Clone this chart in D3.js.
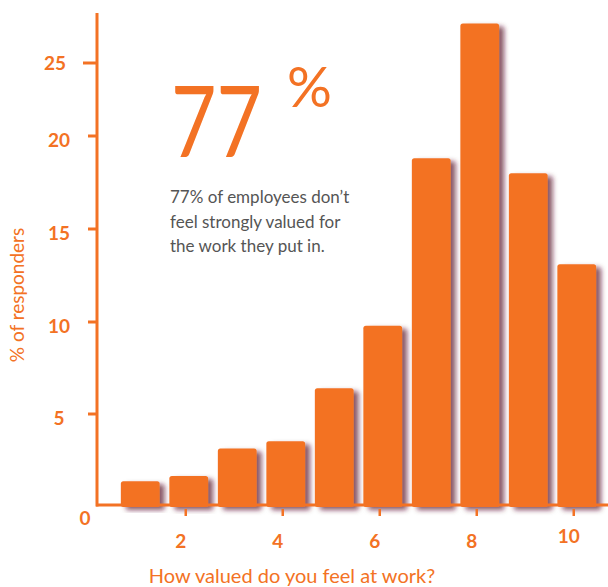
<!DOCTYPE html>
<html>
<head>
<meta charset="utf-8">
<script src="https://cdn.jsdelivr.net/npm/d3@7"></script>
<style>
  body { margin: 0; background: #fff; }
  svg { display: block; }
</style>
</head>
<body>
<script>
// data
const scores = [1, 2, 3, 4, 5, 6, 7, 8, 9, 10];
const responders = [1.3, 1.6, 3.1, 3.5, 6.4, 9.8, 18.8, 27.7, 18.0, 13.1];
const xTickLabels = [2, 4, 6, 8, 10];
const yTickLabels = [5, 10, 15, 20, 25];
const noteLines = ["77% of employees don\u2019t", "feel strongly valued for", "the work they put in."];

const W = 608, H = 587;
const orange = "#f37224";

const svg = d3.select("body").append("svg")
  .attr("width", W)
  .attr("height", H);

// shadow on the right of each bar
const defs = svg.append("defs");
const f = defs.append("filter").attr("id", "shadow")
  .attr("x", "-20%").attr("y", "-10%").attr("width", "150%").attr("height", "130%");
f.append("feDropShadow")
  .attr("dx", 5).attr("dy", 3)
  .attr("stdDeviation", 2.5)
  .attr("flood-color", "#5a1626")
  .attr("flood-opacity", 0.7);

const x = d3.scaleBand()
  .domain(scores)
  .range([116, 601])
  .paddingInner(0.2)
  .paddingOuter(0.1);

// the printed axis is not evenly spaced, so follow its ticks piece by piece
const y = d3.scaleLinear()
  .domain([0, 5, 10, 15, 20, 25])
  .range([505, 414, 322, 229, 136, 63]);

// bars
svg.append("g")
  .selectAll("rect")
  .data(scores)
  .join("rect")
  .attr("x", d => x(d))
  .attr("y", (d, i) => y(responders[i]))
  .attr("width", x.bandwidth())
  .attr("height", (d, i) => y(0) - y(responders[i]) + 2)
  .attr("rx", 2.5)
  .attr("fill", orange)
  .attr("filter", "url(#shadow)");

// y axis
const yAxis = svg.append("g");
yAxis.append("line")
  .attr("x1", 97).attr("x2", 97)
  .attr("y1", 13).attr("y2", y(0) + 1.5)
  .attr("stroke", orange).attr("stroke-width", 3);
yAxis.selectAll(".tick")
  .data(yTickLabels)
  .join("line")
  .attr("x1", d => d === 25 ? 83 : 88).attr("x2", 97)
  .attr("y1", d => y(d)).attr("y2", d => y(d))
  .attr("stroke", orange).attr("stroke-width", 3);
yAxis.selectAll("text")
  .data(yTickLabels)
  .join("text")
  .attr("x", d => d === 25 ? 55 : 59)
  .attr("y", d => y(d) + (d === 25 ? 7 : 11))
  .attr("text-anchor", "middle")
  .attr("font-family", "Lato, sans-serif")
  .attr("font-weight", 700)
  .attr("font-size", 19)
  .attr("fill", orange)
  .text(d => d);

// zero label sits below the origin
svg.append("text")
  .attr("x", 85).attr("y", y(0) + 20)
  .attr("text-anchor", "middle")
  .attr("font-family", "Lato, sans-serif")
  .attr("font-weight", 700)
  .attr("font-size", 19)
  .attr("fill", orange)
  .text(0);

// x axis
const xAxis = svg.append("g");
xAxis.append("line")
  .attr("x1", 96).attr("x2", W)
  .attr("y1", y(0)).attr("y2", y(0))
  .attr("stroke", orange).attr("stroke-width", 3);
xAxis.selectAll(".tick")
  .data(xTickLabels)
  .join("line")
  .attr("x1", d => x(d) + x.bandwidth() / 2 - 3)
  .attr("x2", d => x(d) + x.bandwidth() / 2 - 3)
  .attr("y1", y(0) + 4).attr("y2", y(0) + 11)
  .attr("stroke", orange).attr("stroke-width", 2.5);
xAxis.selectAll("text")
  .data(xTickLabels)
  .join("text")
  .attr("x", d => x(d) + x.bandwidth() / 2 - 8)
  .attr("y", d => y(0) + (d === 10 ? 38 : 43))
  .attr("text-anchor", "middle")
  .attr("font-family", "Lato, sans-serif")
  .attr("font-weight", 700)
  .attr("font-size", 19)
  .attr("fill", orange)
  .text(d => d);

// axis titles
svg.append("text")
  .attr("x", 292).attr("y", 583)
  .attr("text-anchor", "middle")
  .attr("font-family", "Lato, sans-serif")
  .attr("font-size", 20)
  .attr("fill", orange)
  .text("How valued do you feel at work?");

svg.append("text")
  .attr("transform", "translate(24,295) rotate(-90)")
  .attr("text-anchor", "middle")
  .attr("font-family", "Lato, sans-serif")
  .attr("font-size", 19)
  .attr("fill", orange)
  .text("% of responders");

// big callout
svg.append("text")
  .attr("x", 171).attr("y", 157)
  .attr("font-family", "Lato, sans-serif")
  .attr("font-weight", 400)
  .attr("font-size", 98)
  .attr("textLength", 91)
  .attr("lengthAdjust", "spacingAndGlyphs")
  .attr("fill", orange)
  .text("77");

svg.append("text")
  .attr("x", 287).attr("y", 107)
  .attr("font-family", "Lato, sans-serif")
  .attr("font-weight", 400)
  .attr("font-size", 56)
  .attr("fill", orange)
  .text("%");

svg.append("g")
  .selectAll("text")
  .data(noteLines)
  .join("text")
  .attr("x", 170)
  .attr("y", (d, i) => 203 + i * 24.5)
  .attr("font-family", "Lato, sans-serif")
  .attr("font-size", 17)
  .attr("fill", "#555")
  .text(d => d);
</script>
</body>
</html>
